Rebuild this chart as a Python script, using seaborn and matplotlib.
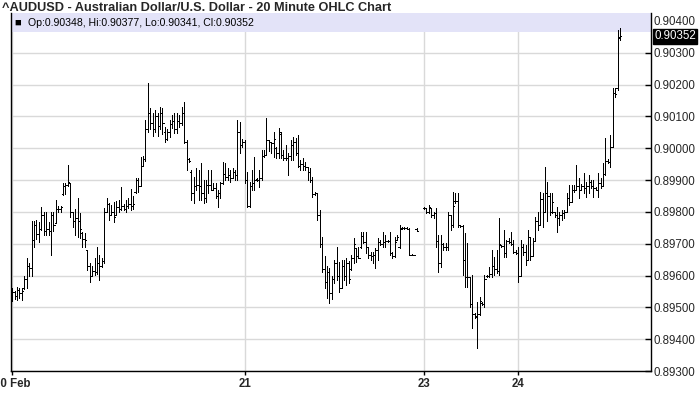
import numpy as np
import pandas as pd
import matplotlib
matplotlib.use("Agg")
import matplotlib.pyplot as plt
import matplotlib.transforms as mtransforms
from matplotlib.patches import Rectangle
import seaborn as sns

title = "^AUDUSD - Australian Dollar/U.S. Dollar - 20 Minute OHLC Chart"

# first bar of each trading day (bar index) and its label
day_labels = ["20 Feb", "21", "23", "24"]
day_first_bar = [0, 96, 170, 209]

nan = float("nan")

opens = [
    0.89530, 0.89548, 0.89535, 0.89555, 0.89545, 0.89560, 0.89590, 0.89630, 0.89625, 0.89712,
    0.89760, 0.89730, 0.89745, 0.89790, 0.89740, 0.89745, 0.89740, 0.89790, 0.89765, 0.89810,
    0.89808, 0.89855, 0.89880, 0.89885, 0.89890, 0.89800, 0.89770, 0.89780, 0.89770, 0.89735,
    0.89715, 0.89680, 0.89630, 0.89600, 0.89615, 0.89610, 0.89640, 0.89630, 0.89645, 0.89800,
    0.89825, 0.89790, 0.89800, 0.89790, 0.89815, 0.89810, 0.89820, 0.89810, 0.89820, 0.89825,
    0.89820, 0.89862, 0.89900, 0.89880, 0.89945, 0.89965, 0.90060, 0.90110, 0.90080, 0.90060,
    0.90100, 0.90070, 0.90110, 0.90050, 0.90030, 0.90050, 0.90075, 0.90085, 0.90060, 0.90085,
    0.90080, 0.90110, 0.90020, 0.89965, 0.89925, 0.89860, 0.89880, 0.89885, 0.89880, 0.89858,
    0.89845, 0.89885, 0.89885, 0.89870, 0.89875, 0.89850, 0.89860, 0.89890, 0.89920, 0.89910,
    0.89915, 0.89905, 0.89925, 0.89915, 0.90050, 0.90010,
    0.90020, 0.89900, 0.89820, 0.89880, 0.89890, 0.89903, 0.89900, 0.89905, 0.89975, 0.89980,
    0.90025, 0.90020, 0.90015, 0.90000, 0.89985, 0.90045, 0.89980, 0.89970, 0.89968, 0.89975,
    0.90010, 0.90020, 0.89985, 0.89945, 0.89950, 0.89945, 0.89940, 0.89925, 0.89900, 0.89855,
    0.89858, 0.89790, 0.89700, 0.89620, 0.89580, 0.89610, 0.89545, 0.89590, 0.89640, 0.89600,
    0.89560, 0.89630, 0.89600, 0.89640, 0.89620, 0.89655, 0.89686, 0.89660, 0.89690, 0.89725,
    0.89705, 0.89690, 0.89665, 0.89660, 0.89665, 0.89680, 0.89705, 0.89700, 0.89705, 0.89710,
    0.89708, 0.89670, 0.89660, 0.89712, 0.89690, 0.89748, 0.89750, 0.89749, 0.89745, 0.89665,
    0.89665, 0.89746, nan, nan,
    0.89811, 0.89811, 0.89800, 0.89811, 0.89790, 0.89795, 0.89710, 0.89640, 0.89700, 0.89690,
    0.89690, 0.89790, 0.89760, 0.89835, 0.89835, 0.89759, 0.89755, 0.89650, 0.89595, 0.89595,
    0.89510, 0.89480, 0.89470, 0.89480, 0.89515, 0.89512, 0.89598, 0.89600, 0.89605, 0.89630,
    0.89620, 0.89615, 0.89695, 0.89693, 0.89670, 0.89710, 0.89705, 0.89700, 0.89675,
    0.89672, 0.89600, 0.89690, 0.89675, 0.89650, 0.89720, 0.89660, 0.89710, 0.89770, 0.89760,
    0.89840, 0.89800, 0.89860, 0.89850, 0.89800, 0.89800, 0.89790, 0.89780, 0.89790, 0.89795,
    0.89800, 0.89845, 0.89830, 0.89870, 0.89868, 0.89880, 0.89870, 0.89880, 0.89875, 0.89880,
    0.89895, 0.89880, 0.89875, 0.89870, 0.89890, 0.89880, 0.89920, 0.89960, 0.89958, 0.90005,
    0.90175, 0.90190, 0.90348,
]

highs = [
    0.89560, 0.89552, 0.89565, 0.89560, 0.89560, 0.89600, 0.89655, 0.89640, 0.89770, 0.89770,
    0.89776, 0.89768, 0.89815, 0.89800, 0.89800, 0.89768, 0.89800, 0.89800, 0.89838, 0.89818,
    0.89818, 0.89890, 0.89890, 0.89947, 0.89890, 0.89800, 0.89809, 0.89845, 0.89797, 0.89737,
    0.89735, 0.89680, 0.89640, 0.89630, 0.89655, 0.89690, 0.89665, 0.89655, 0.89812, 0.89844,
    0.89828, 0.89822, 0.89830, 0.89834, 0.89837, 0.89878, 0.89825, 0.89837, 0.89845, 0.89873,
    0.89850, 0.89907, 0.89907, 0.89972, 0.89975, 0.90090, 0.90205, 0.90125, 0.90110, 0.90120,
    0.90110, 0.90130, 0.90125, 0.90068, 0.90060, 0.90089, 0.90105, 0.90110, 0.90110, 0.90105,
    0.90131, 0.90146, 0.90026, 0.89968, 0.89932, 0.89911, 0.89937, 0.89932, 0.89953, 0.89900,
    0.89900, 0.89932, 0.89932, 0.89890, 0.89890, 0.89869, 0.89895, 0.89958, 0.89953, 0.89937,
    0.89932, 0.89937, 0.89932, 0.90089, 0.90084, 0.90030,
    0.90026, 0.89926, 0.89895, 0.89932, 0.89974, 0.89906, 0.89932, 0.89995, 0.89995, 0.90094,
    0.90026, 0.90020, 0.90052, 0.90005, 0.90063, 0.90052, 0.89995, 0.90010, 0.89984, 0.90026,
    0.90036, 0.90031, 0.90042, 0.89963, 0.89968, 0.89958, 0.89942, 0.89937, 0.89911, 0.89864,
    0.89858, 0.89806, 0.89720, 0.89660, 0.89630, 0.89625, 0.89600, 0.89650, 0.89691, 0.89644,
    0.89649, 0.89649, 0.89654, 0.89645, 0.89665, 0.89717, 0.89686, 0.89691, 0.89738, 0.89738,
    0.89738, 0.89691, 0.89675, 0.89675, 0.89686, 0.89717, 0.89712, 0.89738, 0.89727, 0.89712,
    0.89738, 0.89675, 0.89722, 0.89727, 0.89759, 0.89752, 0.89752, 0.89751, 0.89748, 0.89667,
    0.89666, 0.89748, nan, nan,
    0.89815, 0.89813, 0.89822, 0.89811, 0.89801, 0.89811, 0.89727, 0.89727, 0.89701, 0.89701,
    0.89801, 0.89790, 0.89863, 0.89858, 0.89858, 0.89759, 0.89759, 0.89733, 0.89701, 0.89596,
    0.89602, 0.89482, 0.89518, 0.89533, 0.89518, 0.89602, 0.89602, 0.89628, 0.89680, 0.89659,
    0.89680, 0.89780, 0.89696, 0.89743, 0.89712, 0.89717, 0.89738, 0.89712, 0.89680,
    0.89691, 0.89712, 0.89700, 0.89696, 0.89743, 0.89722, 0.89717, 0.89785, 0.89801, 0.89863,
    0.89858, 0.89942, 0.89895, 0.89858, 0.89858, 0.89801, 0.89816, 0.89801, 0.89806, 0.89806,
    0.89858, 0.89884, 0.89884, 0.89884, 0.89947, 0.89905, 0.89889, 0.89921, 0.89895, 0.89916,
    0.89900, 0.89900, 0.89879, 0.89921, 0.89905, 0.89953, 0.90031, 0.89965, 0.90042, 0.90188,
    0.90188, 0.90372, 0.90377,
]

lows = [
    0.89520, 0.89525, 0.89522, 0.89530, 0.89522, 0.89558, 0.89560, 0.89600, 0.89600, 0.89690,
    0.89715, 0.89705, 0.89743, 0.89728, 0.89728, 0.89728, 0.89665, 0.89740, 0.89765, 0.89800,
    0.89800, 0.89853, 0.89855, 0.89880, 0.89784, 0.89753, 0.89728, 0.89720, 0.89718, 0.89690,
    0.89690, 0.89617, 0.89580, 0.89600, 0.89602, 0.89605, 0.89586, 0.89628, 0.89640, 0.89800,
    0.89775, 0.89790, 0.89768, 0.89790, 0.89800, 0.89805, 0.89805, 0.89800, 0.89812, 0.89806,
    0.89810, 0.89860, 0.89862, 0.89880, 0.89945, 0.89960, 0.90050, 0.90060, 0.90040, 0.90050,
    0.90040, 0.90060, 0.90045, 0.90020, 0.90025, 0.90036, 0.90063, 0.90047, 0.90047, 0.90068,
    0.90073, 0.90016, 0.89932, 0.89958, 0.89837, 0.89827, 0.89869, 0.89837, 0.89837, 0.89827,
    0.89832, 0.89858, 0.89869, 0.89869, 0.89843, 0.89816, 0.89843, 0.89888, 0.89900, 0.89900,
    0.89895, 0.89905, 0.89900, 0.89900, 0.89984, 0.90005,
    0.89890, 0.89816, 0.89816, 0.89869, 0.89869, 0.89898, 0.89879, 0.89900, 0.89974, 0.89979,
    0.89990, 0.89984, 0.89974, 0.89968, 0.89968, 0.89968, 0.89963, 0.89963, 0.89916, 0.89963,
    0.89963, 0.89979, 0.89942, 0.89932, 0.89932, 0.89932, 0.89900, 0.89895, 0.89848, 0.89853,
    0.89775, 0.89690, 0.89610, 0.89560, 0.89530, 0.89515, 0.89525, 0.89575, 0.89586, 0.89549,
    0.89560, 0.89586, 0.89570, 0.89575, 0.89617, 0.89638, 0.89644, 0.89654, 0.89686, 0.89701,
    0.89670, 0.89654, 0.89649, 0.89638, 0.89623, 0.89649, 0.89696, 0.89691, 0.89691, 0.89706,
    0.89665, 0.89654, 0.89659, 0.89712, 0.89686, 0.89745, 0.89747, 0.89745, 0.89665, 0.89663,
    0.89664, 0.89741, nan, nan,
    0.89808, 0.89795, 0.89796, 0.89785, 0.89780, 0.89691, 0.89612, 0.89628, 0.89680, 0.89680,
    0.89680, 0.89743, 0.89753, 0.89827, 0.89753, 0.89753, 0.89602, 0.89565, 0.89565, 0.89502,
    0.89435, 0.89467, 0.89373, 0.89476, 0.89508, 0.89502, 0.89596, 0.89596, 0.89596, 0.89602,
    0.89607, 0.89602, 0.89691, 0.89659, 0.89659, 0.89701, 0.89696, 0.89670, 0.89668,
    0.89581, 0.89598, 0.89665, 0.89633, 0.89650, 0.89649, 0.89660, 0.89710, 0.89743, 0.89760,
    0.89753, 0.89800, 0.89770, 0.89790, 0.89796, 0.89785, 0.89738, 0.89759, 0.89775, 0.89780,
    0.89800, 0.89822, 0.89830, 0.89863, 0.89868, 0.89843, 0.89868, 0.89858, 0.89848, 0.89858,
    0.89874, 0.89848, 0.89868, 0.89848, 0.89874, 0.89880, 0.89916, 0.89955, 0.89942, 0.90005,
    0.90162, 0.90183, 0.90341,
]

closes = [
    0.89548, 0.89535, 0.89555, 0.89545, 0.89550, 0.89590, 0.89630, 0.89625, 0.89712, 0.89760,
    0.89730, 0.89745, 0.89790, 0.89740, 0.89745, 0.89740, 0.89790, 0.89760, 0.89810, 0.89808,
    0.89815, 0.89880, 0.89885, 0.89895, 0.89800, 0.89770, 0.89780, 0.89770, 0.89745, 0.89715,
    0.89712, 0.89630, 0.89600, 0.89615, 0.89610, 0.89640, 0.89630, 0.89645, 0.89800, 0.89825,
    0.89790, 0.89800, 0.89785, 0.89815, 0.89810, 0.89820, 0.89810, 0.89820, 0.89825, 0.89820,
    0.89825, 0.89900, 0.89880, 0.89945, 0.89965, 0.90060, 0.90110, 0.90080, 0.90060, 0.90100,
    0.90070, 0.90110, 0.90080, 0.90030, 0.90050, 0.90075, 0.90085, 0.90060, 0.90085, 0.90080,
    0.90110, 0.90020, 0.89965, 0.89960, 0.89860, 0.89880, 0.89885, 0.89880, 0.89858, 0.89845,
    0.89885, 0.89885, 0.89870, 0.89875, 0.89850, 0.89860, 0.89890, 0.89920, 0.89910, 0.89915,
    0.89905, 0.89925, 0.89915, 0.90050, 0.90010, 0.90020,
    0.89900, 0.89820, 0.89880, 0.89890, 0.89900, 0.89900, 0.89905, 0.89975, 0.89980, 0.90025,
    0.90020, 0.90015, 0.90030, 0.89985, 0.90050, 0.89980, 0.89970, 0.89968, 0.89975, 0.90010,
    0.90020, 0.89985, 0.89945, 0.89950, 0.89945, 0.89940, 0.89925, 0.89900, 0.89855, 0.89860,
    0.89790, 0.89700, 0.89620, 0.89580, 0.89610, 0.89545, 0.89590, 0.89640, 0.89600, 0.89560,
    0.89630, 0.89600, 0.89640, 0.89590, 0.89655, 0.89700, 0.89660, 0.89655, 0.89725, 0.89705,
    0.89690, 0.89665, 0.89660, 0.89665, 0.89680, 0.89705, 0.89700, 0.89705, 0.89710, 0.89708,
    0.89670, 0.89660, 0.89705, 0.89720, 0.89745, 0.89750, 0.89749, 0.89745, 0.89665, 0.89665,
    0.89665, 0.89741, nan, nan,
    0.89811, 0.89800, 0.89815, 0.89790, 0.89795, 0.89710, 0.89640, 0.89700, 0.89690, 0.89690,
    0.89790, 0.89760, 0.89820, 0.89835, 0.89760, 0.89755, 0.89650, 0.89595, 0.89595, 0.89510,
    0.89480, 0.89472, 0.89480, 0.89520, 0.89512, 0.89590, 0.89600, 0.89605, 0.89630, 0.89620,
    0.89615, 0.89700, 0.89693, 0.89670, 0.89710, 0.89705, 0.89700, 0.89675, 0.89672,
    0.89600, 0.89690, 0.89675, 0.89650, 0.89720, 0.89660, 0.89710, 0.89770, 0.89760, 0.89840,
    0.89800, 0.89860, 0.89850, 0.89800, 0.89830, 0.89790, 0.89780, 0.89790, 0.89795, 0.89800,
    0.89845, 0.89830, 0.89870, 0.89868, 0.89880, 0.89870, 0.89880, 0.89875, 0.89880, 0.89895,
    0.89880, 0.89875, 0.89870, 0.89890, 0.89880, 0.89920, 0.89960, 0.89958, 0.90005, 0.90175,
    0.90170, 0.90350, 0.90352,
]

df = pd.DataFrame({"open": opens, "high": highs, "low": lows, "close": closes})
df["bar"] = np.arange(len(df))
bars = df.dropna()

sns.set_theme(style="white")
plt.rcParams["font.family"] = ["Liberation Sans", "DejaVu Sans"]

fig = plt.figure(figsize=(7, 4.11), dpi=100)
ax = fig.add_axes([11 / 700, 1 - 371 / 411, 640 / 700, 358 / 411])

y_lo, y_hi = 0.893, 0.90425
ax.set_ylim(y_lo, y_hi)
ax.set_xlim(-0.5, len(df) - 1 + 12.8)

# grid
ax.set_axisbelow(True)
ax.set_yticks(np.round(np.arange(0.893, 0.90401, 0.001), 3))
ax.set_xticks(day_first_bar)
ax.grid(True, color="#d9d9d9", lw=1)

# legend band
ax.add_patch(Rectangle((0, 1 - 19 / 358), 1, 19 / 358, transform=ax.transAxes,
                       facecolor="#e3e3f8", edgecolor="none", zorder=1))

# OHLC bars
tick_w = 0.5
lw = 0.72
ax.vlines(bars["bar"], bars["low"], bars["high"], color="black", lw=lw, zorder=3, antialiased=False)
ax.hlines(bars["open"], bars["bar"] - tick_w, bars["bar"], color="black", lw=lw, zorder=3, antialiased=False)
ax.hlines(bars["close"], bars["bar"], bars["bar"] + tick_w, color="black", lw=lw, zorder=3, antialiased=False)

# axes styling
ax.yaxis.tick_right()
ax.yaxis.set_major_formatter(matplotlib.ticker.FormatStrFormatter("%.5f"))
ax.tick_params(axis="y", direction="in", length=4, width=1, color="black",
               labelsize=8.3, pad=2, right=True, left=False)
ax.tick_params(axis="x", direction="out", length=3, width=1, color="black",
               labelsize=8.3, pad=2, bottom=True)
ax.set_xticklabels(day_labels, fontweight="bold")
for side in ["left", "right", "bottom"]:
    ax.spines[side].set_color("black")
    ax.spines[side].set_linewidth(1)
ax.spines["top"].set_visible(False)

last = df.iloc[-1]
band_y = 1 - 9.5 / 358
ax.text(0.005, band_y, "\u25a0", transform=ax.transAxes, fontsize=8, va="center",
        ha="left", color="black", zorder=4)
ax.text(0.027, band_y,
        f"Op:{last['open']:.5f}, Hi:{last['high']:.5f}, Lo:{last['low']:.5f}, Cl:{last['close']:.5f}",
        transform=ax.transAxes, fontsize=7.6, va="center", ha="left", color="black", zorder=4)

# last price marker on the right axis
trans = mtransforms.blended_transform_factory(ax.transAxes, ax.transData)
ax.text(1.005, last["close"], f"{last['close']:.5f}", transform=trans, fontsize=8.3,
        va="center", ha="left", color="white",
        bbox=dict(boxstyle="square,pad=0.12", facecolor="black", edgecolor="black"))

fig.text(2 / 700, 1 - 8 / 411, title, fontsize=9.2, fontweight="bold", va="center", ha="left")

fig.savefig("out.png", dpi=100)
